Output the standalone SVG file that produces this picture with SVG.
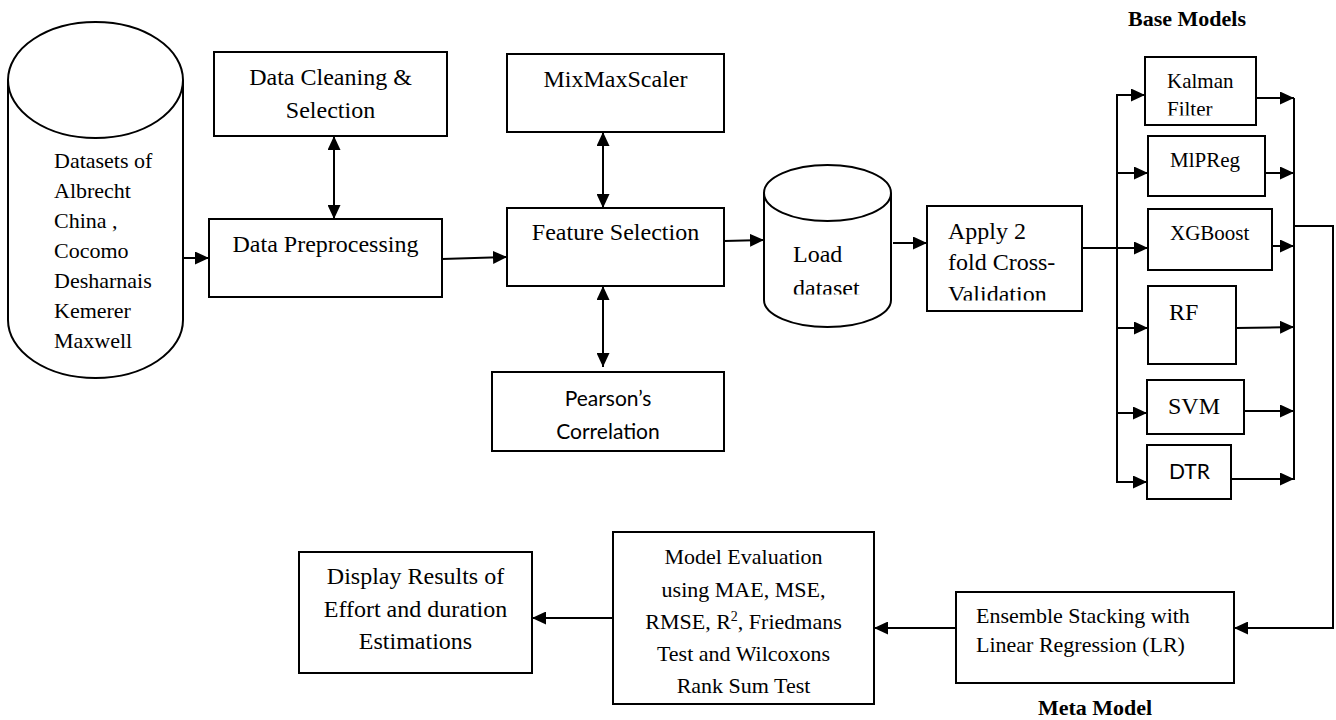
<svg xmlns="http://www.w3.org/2000/svg" width="1336" height="720" viewBox="0 0 1336 720">
  <style>
    .box { fill: #ffffff; stroke: #000000; stroke-width: 2; }
    .cyl { fill: #ffffff; stroke: #000000; stroke-width: 2; }
    .t { font-family: "Liberation Serif", "Times New Roman", serif; font-size: 24px; fill: #000000; }
    .t22 { font-size: 22px; }
    .t21 { font-size: 21px; }
    .mid { text-anchor: middle; }
    .b { font-weight: bold; font-size: 22px; }
    .s { font-family: Lato, "Liberation Sans", Arial, sans-serif; font-size: 21px; fill: #000000; }
    .ln { fill: none; stroke: #000000; stroke-width: 2; }
    .arr { marker-end: url(#head); }
    .dbl { marker-start: url(#head); marker-end: url(#head); }
  </style>
  <defs>
    <marker id="head" markerUnits="userSpaceOnUse" markerWidth="14" markerHeight="13" refX="14" refY="6.5" orient="auto-start-reverse">
      <path d="M0,0 L14,6.5 L0,13 Z" fill="#000000"/>
    </marker>
    <clipPath id="clipLoad"><rect x="780" y="230" width="110" height="64.5"/></clipPath>
    <clipPath id="clipApply"><rect x="930" y="210" width="150" height="90.5"/></clipPath>
    <clipPath id="clipKalman"><rect x="1147" y="60" width="107" height="55.5"/></clipPath>
  </defs>

  <rect width="1336" height="720" fill="#ffffff"/>

  <!-- connectors -->
  <g id="connectors">
    <line class="ln arr" x1="183" y1="258" x2="209" y2="258"/>
    <line class="ln arr" x1="442" y1="259" x2="507" y2="257"/>
    <line class="ln dbl" x1="334" y1="136" x2="334" y2="219"/>
    <line class="ln dbl" x1="603" y1="132" x2="603" y2="208"/>
    <line class="ln dbl" x1="603" y1="286" x2="603" y2="367"/>
    <line class="ln arr" x1="724" y1="241" x2="764" y2="240"/>
    <line class="ln arr" x1="893" y1="243" x2="927" y2="243"/>
    <line class="ln arr" x1="1082" y1="248" x2="1148" y2="248"/>
    <!-- fan-out bus to the base models -->
    <line class="ln" x1="1117" y1="94" x2="1117" y2="483"/>
    <line class="ln arr" x1="1116" y1="95" x2="1145" y2="95"/>
    <line class="ln arr" x1="1117" y1="173" x2="1148" y2="173"/>
    <line class="ln arr" x1="1117" y1="328" x2="1148" y2="328"/>
    <line class="ln arr" x1="1117" y1="413" x2="1147" y2="413"/>
    <line class="ln arr" x1="1116" y1="482" x2="1147" y2="482"/>
    <!-- fan-in bus from the base models -->
    <line class="ln" x1="1294" y1="98" x2="1294" y2="480"/>
    <line class="ln arr" x1="1256" y1="98" x2="1294" y2="98"/>
    <line class="ln arr" x1="1265" y1="173" x2="1294" y2="173"/>
    <line class="ln arr" x1="1272" y1="246" x2="1294" y2="246"/>
    <line class="ln arr" x1="1236" y1="328" x2="1294" y2="327"/>
    <line class="ln arr" x1="1244" y1="411" x2="1294" y2="411"/>
    <line class="ln arr" x1="1231" y1="479" x2="1294" y2="479"/>
    <path class="ln arr" d="M1294,226 H1333 V628 H1234"/>
    <line class="ln arr" x1="956" y1="628" x2="874" y2="628"/>
    <line class="ln arr" x1="613" y1="618" x2="532" y2="618"/>
  </g>

  <!-- source datasets -->
  <g id="datasets">
    <path class="cyl" d="M8,80 A87.5,58 0 0 1 183,80 L183,320 A87.5,58 0 0 1 8,320 Z"/>
    <path class="ln" d="M8,80 A87.5,58 0 0 0 183,80"/>
    <text class="t t22" x="54" y="168">Datasets of</text>
    <text class="t t22" x="54" y="198">Albrecht</text>
    <text class="t t22" x="54" y="228">China ,</text>
    <text class="t t22" x="54" y="258">Cocomo</text>
    <text class="t t22" x="54" y="288">Desharnais</text>
    <text class="t t22" x="54" y="318">Kemerer</text>
    <text class="t t22" x="54" y="348">Maxwell</text>
  </g>

  <g id="cleaning">
    <rect class="box" x="214" y="52" width="233" height="84"/>
    <text class="t mid" x="330.5" y="85">Data Cleaning &amp;</text>
    <text class="t mid" x="330.5" y="118">Selection</text>
  </g>

  <g id="preprocessing">
    <rect class="box" x="209" y="219" width="233" height="78"/>
    <text class="t mid" x="325.5" y="252">Data Preprocessing</text>
  </g>

  <g id="scaler">
    <rect class="box" x="507" y="54" width="217" height="78"/>
    <text class="t mid" x="615.5" y="87">MixMaxScaler</text>
  </g>

  <g id="feature-selection">
    <rect class="box" x="507" y="208" width="217" height="78"/>
    <text class="t mid" x="615.5" y="240">Feature Selection</text>
  </g>

  <g id="pearson">
    <rect class="box" x="492" y="372" width="232" height="79"/>
    <text class="s mid" x="608" y="406">Pearson’s</text>
    <text class="s mid" x="608" y="439">Correlation</text>
  </g>

  <g id="load-dataset">
    <path class="cyl" d="M764,193 A63.5,28 0 0 1 891,193 L891,300 A63.5,27 0 0 1 764,300 Z"/>
    <path class="ln" d="M764,193 A63.5,28 0 0 0 891,193"/>
    <g clip-path="url(#clipLoad)">
      <text class="t" x="793" y="262">Load</text>
      <text class="t" x="793" y="295.5">dataset</text>
    </g>
  </g>

  <g id="cross-validation">
    <rect class="box" x="927" y="206" width="155" height="105"/>
    <g clip-path="url(#clipApply)">
      <text class="t" x="948" y="239">Apply 2</text>
      <text class="t" x="948" y="270">fold Cross-</text>
      <text class="t" x="948" y="302">Validation</text>
    </g>
  </g>

  <text class="t b mid" x="1187" y="26">Base Models</text>

  <g id="kalman">
    <rect class="box" x="1145" y="57" width="111" height="68"/>
    <g clip-path="url(#clipKalman)">
      <text class="t t21" x="1167" y="88">Kalman</text>
      <text class="t t21" x="1167" y="116">Filter</text>
    </g>
  </g>

  <g id="mlpreg">
    <rect class="box" x="1148" y="136" width="117" height="60"/>
    <text class="t t21" x="1170" y="167">MlPReg</text>
  </g>

  <g id="xgboost">
    <rect class="box" x="1148" y="209" width="124" height="61"/>
    <text class="t t21" x="1170" y="240">XGBoost</text>
  </g>

  <g id="rf">
    <rect class="box" x="1148" y="286" width="88" height="78"/>
    <text class="t" x="1169" y="320">RF</text>
  </g>

  <g id="svm">
    <rect class="box" x="1147" y="380" width="97" height="54"/>
    <text class="t" x="1168" y="414">SVM</text>
  </g>

  <g id="dtr">
    <rect class="box" x="1147" y="445" width="84" height="54"/>
    <text class="s" x="1169" y="479">DTR</text>
  </g>

  <g id="ensemble">
    <rect class="box" x="956" y="592" width="278" height="91"/>
    <text class="t t22" x="976" y="623">Ensemble Stacking with</text>
    <text class="t t22" x="976" y="652">Linear Regression (LR)</text>
  </g>

  <text class="t b mid" x="1095" y="715">Meta Model</text>

  <g id="evaluation">
    <rect class="box" x="613" y="532" width="261" height="172"/>
    <text class="t t22 mid" x="743.5" y="564">Model Evaluation</text>
    <text class="t t22 mid" x="743.5" y="597">using MAE, MSE,</text>
    <text class="t t22 mid" x="743.5" y="629">RMSE, R<tspan font-size="14" dy="-8">2</tspan><tspan dy="8">, Friedmans</tspan></text>
    <text class="t t22 mid" x="743.5" y="661">Test and Wilcoxons</text>
    <text class="t t22 mid" x="743.5" y="693">Rank Sum Test</text>
  </g>

  <g id="results">
    <rect class="box" x="299" y="552" width="233" height="121"/>
    <text class="t mid" x="415.5" y="584">Display Results of</text>
    <text class="t mid" x="415.5" y="617">Effort and duration</text>
    <text class="t mid" x="415.5" y="649">Estimations</text>
  </g>
</svg>
